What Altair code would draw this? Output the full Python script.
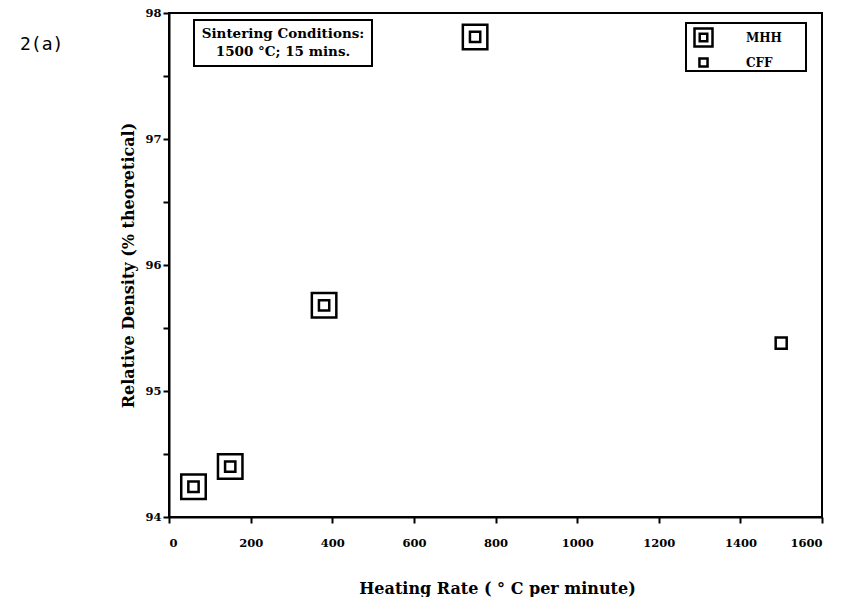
import altair as alt
import pandas as pd

# Data
mhh_rate = [60, 150, 380, 750]
mhh_density = [94.24, 94.40, 95.68, 97.81]
cff_rate = [1500]
cff_density = [95.38]
series_names = ["MHH", "CFF"]

x_ticks = [0, 200, 400, 600, 800, 1000, 1200, 1400, 1600]
y_ticks = [94, 94.5, 95, 95.5, 96, 96.5, 97, 97.5, 98]

rows = [{"rate": r, "density": d, "series": "MHH"} for r, d in zip(mhh_rate, mhh_density)]
rows += [{"rate": r, "density": d, "series": "CFF"} for r, d in zip(cff_rate, cff_density)]
df = pd.DataFrame(rows)

SERIF = "DejaVu Serif"
MHH_PATH = "M-1,-1H1V1H-1Z M-0.42,-0.42H0.42V0.42H-0.42Z"
CFF_PATH = "M-0.45,-0.45H0.45V0.45H-0.45Z"

W, H = 653, 504

leg = alt.Legend(title=None, orient="none", legendX=524, legendY=14,
                 padding=0, labelOffset=32, rowPadding=-6, symbolSize=324,
                 symbolStrokeWidth=2.5, symbolStrokeColor="black",
                 symbolFillColor="transparent")

legend_box = alt.Chart(pd.DataFrame({"a": [0]})).mark_rect(
    fill="white", stroke="black", strokeWidth=2
).encode(x=alt.value(517), x2=alt.value(637), y=alt.value(10), y2=alt.value(58))

points = alt.Chart(df).mark_point(filled=False, stroke="black", strokeWidth=2.5, opacity=1, size=600).encode(
    x=alt.X("rate:Q", scale=alt.Scale(domain=[0, 1600], nice=False),
            axis=alt.Axis(values=x_ticks, format="d", labelPadding=14,
                          title="Heating Rate ( ° C per minute)",
                          titleX=328, titleY=71, titleBaseline="middle", titleAlign="center")),
    y=alt.Y("density:Q", scale=alt.Scale(domain=[94, 98], nice=False, zero=False),
            axis=alt.Axis(values=y_ticks,
                          labelExpr="datum.value % 1 == 0 ? format(datum.value, 'd') : ''",
                          title="Relative Density (% theoretical)",
                          titleX=-41, titleY=252, titleAngle=-90, titleBaseline="middle",
                          titleAlign="center")),
    shape=alt.Shape("series:N", scale=alt.Scale(domain=series_names, range=[MHH_PATH, CFF_PATH]),
                    legend=leg),
)

box = alt.Chart(pd.DataFrame({"a": [0]})).mark_rect(fill="white", stroke="black", strokeWidth=2).encode(
    x=alt.value(25), x2=alt.value(203), y=alt.value(7), y2=alt.value(53)
)
note1 = alt.Chart(pd.DataFrame({"t": ["Sintering Conditions:"]})).mark_text(
    font=SERIF, fontWeight="bold", fontSize=13.5, align="center", baseline="middle"
).encode(text="t:N", x=alt.value(114), y=alt.value(21))
note2 = alt.Chart(pd.DataFrame({"t": ["1500 °C; 15 mins."]})).mark_text(
    font=SERIF, fontWeight="bold", fontSize=13.5, align="center", baseline="middle"
).encode(text="t:N", x=alt.value(114), y=alt.value(39))
label = alt.Chart(pd.DataFrame({"t": ["2(a)"]})).mark_text(
    font="DejaVu Sans Mono", fontSize=18, align="left", baseline="middle"
).encode(text="t:N", x=alt.value(-149), y=alt.value(32))

chart = alt.layer(legend_box, points, box, note1, note2, label).properties(
    width=W, height=H,
    padding={"left": 161, "top": 5, "right": 22, "bottom": 80},
    autosize=alt.AutoSizeParams(type="none"),
).configure_view(
    stroke="black", strokeWidth=2
).configure_axis(
    domainColor="black", domainWidth=2, tickColor="black", tickWidth=2, tickSize=6,
    grid=False, labelFont=SERIF, labelFontWeight="bold", labelFontSize=11.5, labelColor="black",
    titleFont=SERIF, titleFontWeight="bold", titleFontSize=16, titleColor="black",
).configure_legend(
    labelFont=SERIF, labelFontWeight="bold", labelFontSize=12, labelColor="black",
)

chart.save("out.html", embed_options={"renderer": "svg", "actions": False})
